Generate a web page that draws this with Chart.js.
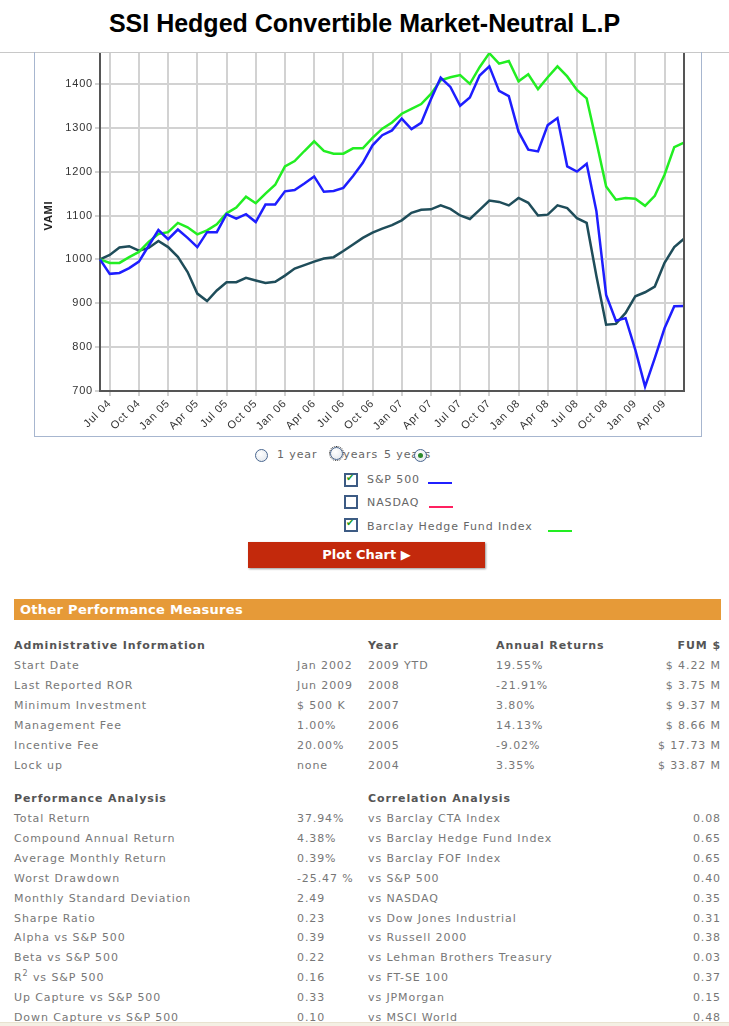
<!DOCTYPE html>
<html>
<head>
<meta charset="utf-8">
<script src="https://cdn.jsdelivr.net/npm/chart.js@4.4.0/dist/chart.umd.min.js"></script>
<style>
  body { margin: 0; background: #fff; width: 729px; height: 1026px; position: relative; overflow: hidden;
         font-family: "DejaVu Sans", Verdana, sans-serif; font-size: 11px; color: #777; }
  .abs { position: absolute; white-space: nowrap; line-height: 14px; letter-spacing: 0.9px; }
  #title { position: absolute; left: 0; width: 729px; top: 9px; text-align: center;
           font-family: "Liberation Sans", Arial, sans-serif; font-weight: bold; font-size: 25px; color: #000; }
  #topline { position: absolute; left: 0; top: 52px; width: 729px; height: 1px; background: #c8c8c8; }
  #box { position: absolute; left: 34px; top: 52px; width: 666px; height: 384px;
         border-left: 1px solid #a7b6cf; border-right: 1px solid #a7b6cf; border-bottom: 1px solid #a7b6cf; }
  #clip { position: absolute; left: 36px; top: 53px; width: 663px; height: 383px; overflow: hidden; }
  #clip canvas { position: absolute; left: 0; top: -13px; }
  .radio { position: absolute; width: 11px; height: 11px; border-radius: 50%; border: 1px solid #4a6790;
           background: radial-gradient(circle at 40% 35%, #fff, #dfe4ea); }
  .radio.on::after { content: ""; position: absolute; left: 3px; top: 3px; width: 5px; height: 5px; border-radius: 50%; background: #2c8a2c; }
  .focus { outline: 1px dotted #333; outline-offset: 0px; }
  .cb { position: absolute; width: 10px; height: 10px; border: 2px solid #3d5b84; background: #fff; }
  .cb.on::after { content: "\2714"; position: absolute; left: 0px; top: -3px; font-size: 10px; color: #1e9a1e; }
  .swatch { position: absolute; height: 2px; }
  #btn { position: absolute; left: 248px; top: 542px; width: 237px; height: 26px; background: #c3290c;
         box-shadow: 1px 1px 2px #999; color: #fff; font-weight: bold; font-size: 13px; text-align: center; line-height: 26px; }
  #bar { position: absolute; left: 14px; top: 599px; width: 707px; height: 21px; background: #e69a38; }
  #bar span { position: absolute; left: 6px; top: 3px; color: #fff; font-weight: bold; font-size: 13px; letter-spacing: 0.3px; }
  .hd { font-weight: bold; color: #555; }
  .r { text-align: right; }
  #foot { position: absolute; left: 0; top: 1022px; width: 729px; height: 4px; background: #f4f0e4; border-top: 1px solid #e8e2d0; }
</style>
</head>
<body>
<div id="title">SSI Hedged Convertible Market-Neutral L.P</div>
<div id="topline"></div>
<div id="box"></div>
<div id="clip"><canvas id="vami" width="663" height="396"></canvas></div>

<div class="radio" style="left:255px;top:449px"></div>
<div class="abs" style="left:277px;top:448px;color:#666">1 year</div>
<div class="abs" style="left:331px;top:448px;color:#666">3 years</div>
<div class="radio focus" style="left:330px;top:447px"></div>
<div class="abs" style="left:384px;top:448px;color:#666">5 years</div>
<div class="radio on" style="left:414px;top:449px"></div>

<div class="cb on" style="left:344px;top:473px"></div>
<div class="abs" style="left:367px;top:473px;color:#666">S&amp;P 500</div>
<div class="swatch" style="left:428px;top:482px;width:24px;background:#2020ff"></div>
<div class="cb" style="left:344px;top:495px"></div>
<div class="abs" style="left:367px;top:496px;color:#666">NASDAQ</div>
<div class="swatch" style="left:429px;top:506px;width:24px;background:#ff2060"></div>
<div class="cb on" style="left:344px;top:518px"></div>
<div class="abs" style="left:367px;top:520px;color:#666">Barclay Hedge Fund Index</div>
<div class="swatch" style="left:548px;top:530px;width:24px;background:#22ee22"></div>

<div id="btn">Plot Chart &#9654;</div>
<div id="bar"><span>Other Performance Measures</span></div>
<div id="tables"></div>
<div id="foot"></div>

<script>
// months on the x axis (Jun 2004 - Jun 2009)
const months = [
  'Jun 04','Jul 04','Aug 04','Sep 04','Oct 04','Nov 04','Dec 04',
  'Jan 05','Feb 05','Mar 05','Apr 05','May 05','Jun 05','Jul 05','Aug 05','Sep 05','Oct 05','Nov 05','Dec 05',
  'Jan 06','Feb 06','Mar 06','Apr 06','May 06','Jun 06','Jul 06','Aug 06','Sep 06','Oct 06','Nov 06','Dec 06',
  'Jan 07','Feb 07','Mar 07','Apr 07','May 07','Jun 07','Jul 07','Aug 07','Sep 07','Oct 07','Nov 07','Dec 07',
  'Jan 08','Feb 08','Mar 08','Apr 08','May 08','Jun 08','Jul 08','Aug 08','Sep 08','Oct 08','Nov 08','Dec 08',
  'Jan 09','Feb 09','Mar 09','Apr 09','May 09','Jun 09'
];

// VAMI du fonds
const fundVami = [
  1000,1010,1027,1030,1020,1026,1042,1028,1006,971,
  922,905,929,948,948,958,952,946,949,963,
  979,987,995,1002,1005,1019,1034,1049,1061,1070,
  1078,1089,1106,1113,1114,1123,1115,1100,1092,1113,
  1134,1131,1123,1140,1129,1100,1102,1123,1117,1094,
  1083,962,851,853,878,916,925,938,992,1028,1047
];
// S&P 500
const sp500Vami = [
  1000,967,969,980,995,1031,1067,1046,1068,1049,
  1028,1062,1062,1103,1093,1103,1085,1125,1125,1155,
  1158,1173,1189,1154,1156,1163,1190,1220,1260,1283,
  1294,1321,1297,1311,1365,1414,1393,1350,1369,1419,
  1440,1384,1372,1291,1250,1246,1306,1322,1212,1200,
  1218,1110,919,860,866,794,710,775,843,893,894
];
// Barclay Hedge Fund Index
const barclayVami = [
  1000,992,992,1005,1017,1040,1058,1062,1083,1073,
  1057,1066,1080,1105,1118,1143,1128,1150,1170,1212,
  1224,1247,1269,1247,1241,1241,1253,1253,1277,1298,
  1312,1332,1343,1354,1377,1408,1415,1420,1400,1438,
  1470,1446,1452,1406,1422,1388,1415,1440,1417,1386,
  1367,1268,1166,1136,1140,1138,1122,1145,1193,1256,1266
];
// labels shown on the x axis
const quarterMonths = ['Jan','Apr','Jul','Oct'];

// bordure droite du graphique + espacement des lettres
const chartDeco = {
  id: 'chartDeco',
  beforeDraw(chart) {
    chart.ctx.letterSpacing = '0.8px';
  },
  afterDraw(chart) {
    const a = chart.chartArea, ctx = chart.ctx;
    ctx.save();
    ctx.strokeStyle = '#555';
    ctx.lineWidth = 2;
    ctx.beginPath();
    ctx.moveTo(a.right, a.top);
    ctx.lineTo(a.right, a.bottom + 1);
    ctx.stroke();
    ctx.restore();
  }
};

const tickFont = { family: 'Liberation Sans, Arial, sans-serif', size: 11 };

new Chart(document.getElementById('vami').getContext('2d'), {
  type: 'line',
  data: {
    labels: months,
    datasets: [
      { label: 'S&P 500', data: sp500Vami, borderColor: '#1e1eff', borderWidth: 2.5 },
      { label: 'Barclay Hedge Fund Index', data: barclayVami, borderColor: '#22ee22', borderWidth: 2.5 },
      { label: 'SSI Hedged Convertible Market-Neutral L.P', data: fundVami, borderColor: '#1f4d5a', borderWidth: 2.5 }
    ]
  },
  options: {
    responsive: false,
    animation: false,
    layout: { padding: { top: 0, right: 15, left: 0, bottom: 0 } },
    elements: { point: { radius: 0 }, line: { tension: 0 } },
    plugins: { legend: { display: false }, tooltip: { enabled: false } },
    scales: {
      x: {
        grid: { color: '#d2d2d2', lineWidth: 2, tickLength: 5 },
        border: { color: '#555', width: 2 },
        ticks: {
          autoSkip: false, maxRotation: 45, minRotation: 45, padding: 1,
          color: '#333', font: tickFont,
          callback: function (v) {
            const m = months[v];
            return quarterMonths.indexOf(m.slice(0, 3)) >= 0 ? m : null;
          }
        },
        afterFit: function (s) { s.height = 45; s.paddingLeft = 0; s.paddingRight = 0; }
      },
      y: {
        min: 700, max: 1500,
        grid: { color: '#d2d2d2', lineWidth: 2, tickLength: 5 },
        border: { color: '#555', width: 2 },
        ticks: { stepSize: 100, padding: 2, color: '#333', font: tickFont,
                 callback: function (v) { return String(v); } },
        title: { display: true, text: 'VAMI', color: '#222', font: { family: 'Liberation Sans, Arial, sans-serif', size: 11, weight: 'bold' }, padding: { top: 6, bottom: 0 } },
        afterFit: function (s) { s.width = 64; s.paddingTop = 0; s.paddingBottom = 0; }
      }
    }
  },
  plugins: [chartDeco]
});

// tableaux du bas
const adminRows = [
  ['Start Date','Jan 2002','2009 YTD','19.55%','$ 4.22 M'],
  ['Last Reported ROR','Jun 2009','2008','-21.91%','$ 3.75 M'],
  ['Minimum Investment','$ 500 K','2007','3.80%','$ 9.37 M'],
  ['Management Fee','1.00%','2006','14.13%','$ 8.66 M'],
  ['Incentive Fee','20.00%','2005','-9.02%','$ 17.73 M'],
  ['Lock up','none','2004','3.35%','$ 33.87 M']
];
const perfRows = [
  ['Total Return','37.94%','vs Barclay CTA Index','0.08'],
  ['Compound Annual Return','4.38%','vs Barclay Hedge Fund Index','0.65'],
  ['Average Monthly Return','0.39%','vs Barclay FOF Index','0.65'],
  ['Worst Drawdown','-25.47 %','vs S&amp;P 500','0.40'],
  ['Monthly Standard Deviation','2.49','vs NASDAQ','0.35'],
  ['Sharpe Ratio','0.23','vs Dow Jones Industrial','0.31'],
  ['Alpha vs S&amp;P 500','0.39','vs Russell 2000','0.38'],
  ['Beta vs S&amp;P 500','0.22','vs Lehman Brothers Treasury','0.03'],
  ['R<sup style="font-size:8px;line-height:0">2</sup> vs S&amp;P 500','0.16','vs FT-SE 100','0.37'],
  ['Up Capture vs S&amp;P 500','0.33','vs JPMorgan','0.15'],
  ['Down Capture vs S&amp;P 500','0.10','vs MSCI World','0.48']
];

var html = '';
function cell(x, y, txt, cls) {
  if (cls && cls.indexOf('r') >= 0) {
    html += '<div class="abs ' + cls + '" style="right:' + (729 - x) + 'px;top:' + (y - 7) + 'px">' + txt + '</div>';
  } else {
    html += '<div class="abs ' + (cls || '') + '" style="left:' + x + 'px;top:' + (y - 7) + 'px">' + txt + '</div>';
  }
}
cell(14, 646, 'Administrative Information', 'hd');
cell(368, 646, 'Year', 'hd');
cell(496, 646, 'Annual Returns', 'hd');
cell(721, 646, 'FUM $', 'hd r');
for (var i = 0; i < adminRows.length; i++) {
  var y = 666 + i * 20;
  cell(14, y, adminRows[i][0]);
  cell(297, y, adminRows[i][1]);
  cell(368, y, adminRows[i][2]);
  cell(496, y, adminRows[i][3]);
  cell(721, y, adminRows[i][4], 'r');
}
cell(14, 799, 'Performance Analysis', 'hd');
cell(368, 799, 'Correlation Analysis', 'hd');
for (var j = 0; j < perfRows.length; j++) {
  var yy = Math.round(819 + j * 19.9);
  cell(14, yy, perfRows[j][0]);
  cell(297, yy, perfRows[j][1]);
  cell(368, yy, perfRows[j][2]);
  cell(721, yy, perfRows[j][3], 'r');
}
document.getElementById('tables').innerHTML = html;
</script>
</body>
</html>
